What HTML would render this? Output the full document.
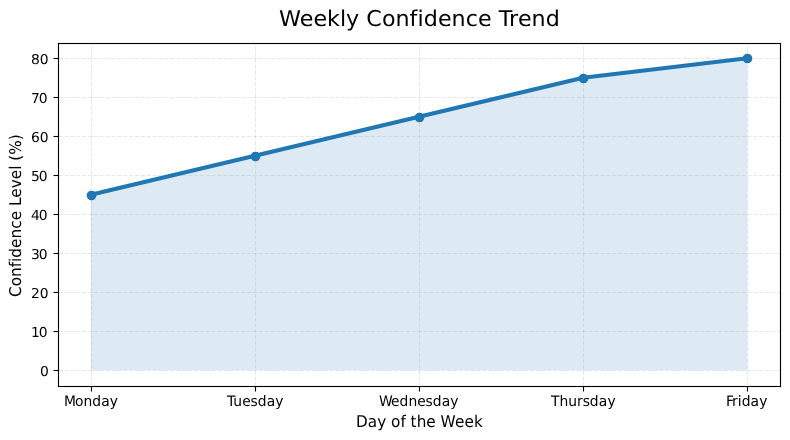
<!DOCTYPE html>
<html lang="en"><head><meta charset="utf-8"><title>Weekly Confidence Trend</title>
<style>html,body{margin:0;padding:0;background:#fff;overflow:hidden}svg{display:block;will-change:transform}text{font-family:"DejaVu Sans", "Liberation Sans", sans-serif;fill:#000;filter:grayscale(1);text-rendering:geometricPrecision}.g{stroke:#b0b0b0;stroke-opacity:.3;stroke-width:1.1111;stroke-dasharray:4.1111 1.7778;fill:none}.k{stroke:#000;stroke-width:1.1111;fill:none}.t{font-size:13.8889px}.l{font-size:15.2778px}.h{font-size:22.2222px}</style></head><body>
<svg width="790" height="440" viewBox="0 0 790 440">
<rect width="790" height="440" fill="#fff"/>
<defs><clipPath id="c"><rect x="57.9028" y="42.6667" width="722.0972" height="343.0556"/></clipPath></defs>
<path d="M90.725 370.129 L90.725 194.703 L254.838 155.719 L418.951 116.735 L583.064 77.752 L747.177 58.260 L747.177 370.129 Z" fill="#ddeaf3"/>
<g class="g" clip-path="url(#c)">
<path d="M91.5 386.5V43.5"/>
<path d="M255.5 386.5V43.5"/>
<path d="M419.5 386.5V43.5"/>
<path d="M583.5 386.5V43.5"/>
<path d="M747.5 386.5V43.5"/>
<path d="M58.5 370.5H780.5"/>
<path d="M58.5 331.5H780.5"/>
<path d="M58.5 292.5H780.5"/>
<path d="M58.5 253.5H780.5"/>
<path d="M58.5 214.5H780.5"/>
<path d="M58.5 175.5H780.5"/>
<path d="M58.5 136.5H780.5"/>
<path d="M58.5 97.5H780.5"/>
<path d="M58.5 58.5H780.5"/>
</g>
<g class="k">
<path d="M91.5 386.5V391.5"/>
<path d="M255.5 386.5V391.5"/>
<path d="M419.5 386.5V391.5"/>
<path d="M583.5 386.5V391.5"/>
<path d="M747.5 386.5V391.5"/>
<path d="M58.5 370.5H53.5"/>
<path d="M58.5 331.5H53.5"/>
<path d="M58.5 292.5H53.5"/>
<path d="M58.5 253.5H53.5"/>
<path d="M58.5 214.5H53.5"/>
<path d="M58.5 175.5H53.5"/>
<path d="M58.5 136.5H53.5"/>
<path d="M58.5 97.5H53.5"/>
<path d="M58.5 58.5H53.5"/>
</g>
<path d="M90.725 194.703 L254.838 155.719 L418.951 116.735 L583.064 77.752 L747.177 58.260" fill="none" stroke="#1f77b4" stroke-width="4.1667" stroke-linejoin="round" stroke-linecap="square" clip-path="url(#c)"/>
<g fill="#1f77b4" stroke="#1f77b4" stroke-width="1.3889">
<circle cx="91.50" cy="195.50" r="4.1667"/>
<circle cx="255.50" cy="156.50" r="4.1667"/>
<circle cx="419.50" cy="117.50" r="4.1667"/>
<circle cx="583.50" cy="78.50" r="4.1667"/>
<circle cx="747.50" cy="58.50" r="4.1667"/>
</g>
<g fill="#000"><rect x="57.9444" y="42.9444" width="1.1111" height="344.1111"/><rect x="779.9444" y="42.9444" width="1.1111" height="344.1111"/><rect x="57.9444" y="42.9444" width="723.1111" height="1.1111"/><rect x="57.9444" y="385.9444" width="723.1111" height="1.1111"/></g>
<text class="t" x="64 75 83.5 92.25 101.25 109.75" transform="translate(0 405.9) scale(1 1.04)">Monday</text>
<text class="t" x="227 233.25 242.25 250.5 257.75 266.75 275.25" transform="translate(0 405.9) scale(1 1.04)">Tuesday</text>
<text class="t" x="379 391 399.5 408.5 417.25 425.5 432.75 441.75 450.25" transform="translate(0 405.9) scale(1 1.04)">Wednesday</text>
<text class="t" x="551 559.5 568.25 577 582.75 589.75 598.75 607.5" transform="translate(0 405.9) scale(1 1.04)">Thursday</text>
<text class="t" x="726 732 737.75 741.75 750.5 759.25" transform="translate(0 405.9) scale(1 1.04)">Friday</text>
<text class="t" x="40" transform="translate(0 376) scale(1 0.98)">0</text>
<text class="t" x="31 38.75" transform="translate(0 337) scale(1 0.99)">10</text>
<text class="t" x="31 39.75" transform="translate(0 298) scale(1 0.98)">20</text>
<text class="t" x="31 38.75" transform="translate(0 259) scale(1 0.98)">30</text>
<text class="t" x="31 38.75" y="220">40</text>
<text class="t" x="31 38.75" y="181">50</text>
<text class="t" x="31 39.75" transform="translate(0 142) scale(1 0.98)">60</text>
<text class="t" x="31 38.75" transform="translate(0 103) scale(1 0.99)">70</text>
<text class="t" x="31 39.75" transform="translate(0 64) scale(1 0.98)">80</text>
<text class="h" x="279 299.75 313.5 327 340 346 359.5 366.25 382 395.5 409.5 417.5 423.75 438 451.5 465.75 478 491.5 498.75 509 518 531.5 545.75" transform="translate(0 26) scale(1 0.98)">Weekly Confidence Trend</text>
<text class="l" x="356 367.75 377.25 386.25 391 400.5 405.75 410.5 416.75 426.25 435.75 440.5 455 464.5 474" transform="translate(0 426.6) scale(1 1.06)">Day of the Week</text>
<text class="l" transform="translate(21 215.69) rotate(-90) scale(1 1.06)" x="-81.25 -70.5 -61.25 -51.5 -46.25 -42 -32.25 -22.75 -13 -4.5 4.75 9.75 18 27.5 36.5 46 49.75 55 61 75.5">Confidence Level (%)</text>
</svg></body></html>
